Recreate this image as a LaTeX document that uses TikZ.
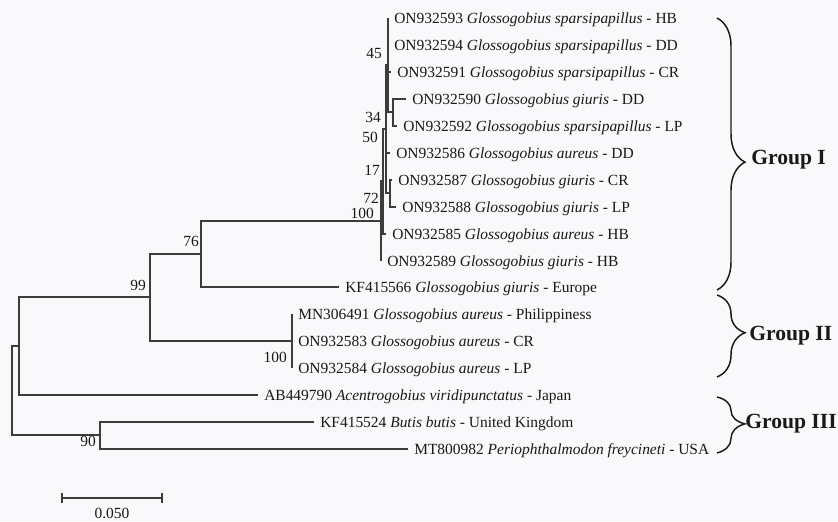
\documentclass[tikz,border=0pt]{standalone}
\usepackage{fontspec}
\setmainfont{Liberation Serif}
\usetikzlibrary{decorations.pathreplacing,arrows.meta}
\definecolor{bgcol}{RGB}{249,249,251}
\definecolor{linecol}{RGB}{60,60,60}
\definecolor{txtcol}{RGB}{25,25,25}
\begin{document}
\begin{tikzpicture}[
    x=0.75pt, y=-0.75pt,
    every node/.style={font=\fontsize{11.6}{13}\selectfont, text=txtcol},
    tip/.style={anchor=west, inner xsep=4.5pt, inner ysep=0pt, text height=7.5pt, text depth=0pt},
    boot/.style={anchor=east, inner sep=0pt},
    branch/.style={draw=linecol, line width=1.5pt},
    grp/.style={anchor=west, inner sep=0pt, font=\fontsize{16.2}{18}\selectfont\bfseries},
    clade/.style={draw=txtcol, line width=1.1pt, decorate,
        decoration={brace, amplitude=21pt, aspect=#1}}
]
\useasboundingbox (0,0) rectangle (838,521);
\fill[bgcol] (0,0) rectangle (838,521);

% tips
\node[tip] (t593) at (388,18) {ON932593 \textit{Glossogobius sparsipapillus} - HB};
\node[tip] (t594) at (388,45) {ON932594 \textit{Glossogobius sparsipapillus} - DD};
\node[tip] (t591) at (391,72) {ON932591 \textit{Glossogobius sparsipapillus} - CR};
\node[tip] (t590) at (406,99) {ON932590 \textit{Glossogobius giuris} - DD};
\node[tip] (t592) at (397,126) {ON932592 \textit{Glossogobius sparsipapillus} - LP};
\node[tip] (t586) at (390,153) {ON932586 \textit{Glossogobius aureus} - DD};
\node[tip] (t587) at (392,180) {ON932587 \textit{Glossogobius giuris} - CR};
\node[tip] (t588) at (396,207) {ON932588 \textit{Glossogobius giuris} - LP};
\node[tip] (t585) at (386,234) {ON932585 \textit{Glossogobius aureus} - HB};
\node[tip] (t589) at (381,261) {ON932589 \textit{Glossogobius giuris} - HB};
\node[tip] (t566) at (339,287) {KF415566 \textit{Glossogobius giuris} - Europe};
\node[tip] (t491) at (292,314) {MN306491 \textit{Glossogobius aureus} - Philippiness};
\node[tip] (t583) at (292,341) {ON932583 \textit{Glossogobius aureus} - CR};
\node[tip] (t584) at (292,368) {ON932584 \textit{Glossogobius aureus} - LP};
\node[tip] (t790) at (258,395) {AB449790 \textit{Acentrogobius viridipunctatus} - Japan};
\node[tip] (t524) at (314,422) {KF415524 \textit{Butis butis} - United Kingdom};
\node[tip] (t982) at (408,449) {MT800982 \textit{Periophthalmodon freycineti} - USA};

% inner nodes
\coordinate (n34) at (393,112);
\coordinate (n45) at (388,65);
\coordinate (n72) at (390,193);
\coordinate (n50) at (386,129);
\coordinate (n17) at (383,181);
\coordinate (n100) at (381,221);
\coordinate (n76) at (201,254);
\coordinate (nII) at (292,341);
\coordinate (n99) at (150,297);
\coordinate (nin) at (19,346);
\coordinate (n90) at (100,435);
\coordinate (root) at (12,390);

\draw[branch] (n45) |- (t593.west);
\draw[branch] (n45) |- (t594.west);
\draw[branch] (n45) |- (t591.west);
\draw[branch] (n45) |- (n34);
\draw[branch] (n34) |- (t590.west);
\draw[branch] (n34) |- (t592.west);
\draw[branch] (n50) |- (n45);
\draw[branch] (n50) |- (t586.west);
\draw[branch] (n50) |- (n72);
\draw[branch] (n72) |- (t587.west);
\draw[branch] (n72) |- (t588.west);
\draw[branch] (n17) |- (n50);
\draw[branch] (n17) |- (t585.west);
\draw[branch] (n100) |- (n17);
\draw[branch] (n100) |- (t589.west);
\draw[branch] (n76) |- (n100);
\draw[branch] (n76) |- (t566.west);
\draw[branch] (nII) |- (t491.west);
\draw[branch] (nII) |- (t583.west);
\draw[branch] (nII) |- (t584.west);
\draw[branch] (n99) |- (n76);
\draw[branch] (n99) |- (nII);
\draw[branch] (nin) |- (n99);
\draw[branch] (nin) |- (t790.west);
\draw[branch] (n90) |- (t524.west);
\draw[branch] (n90) |- (t982.west);
\draw[branch] (root) |- (nin);
\draw[branch] (root) |- (n90);

% bootstrap values
\node[boot] (b45) at (382,53) {45};
\node[boot] (b34) at (381,117) {34};
\node[boot] (b50) at (378,137) {50};
\node[boot] (b17) at (380,170) {17};
\node[boot] (b72) at (379,198) {72};
\node[boot] (b100a) at (374,213) {100};
\node[boot] (b76) at (199,241) {76};
\node[boot] (b99) at (146,285) {99};
\node[boot] (b100b) at (287,357) {100};
\node[boot] (b90) at (96,441) {90};

% groups
\coordinate (g1a) at (717,18);
\coordinate (g1b) at (717,290);
\coordinate (g2a) at (717,295);
\coordinate (g2b) at (717,377);
\coordinate (g3a) at (717,397);
\coordinate (g3b) at (717,453);
\draw[clade=0.53] (g1a) -- (g1b);
\draw[clade=0.46] (g2a) -- (g2b);
\draw[clade=0.48] (g3a) -- (g3b);
\node[grp] (g1) at (751,160) {Group I};
\node[grp] (g2) at (749,336) {Group II};
\node[grp] (g3) at (745,424) {Group III};

% scale bar
\coordinate (s0) at (61,498);
\coordinate (s1) at (163,498);
\draw[branch, {Bar[width=7pt]}-{Bar[width=7pt]}] (s0) -- (s1);
\node (sbl) at (112,513) {0.050};
\end{tikzpicture}
\end{document}
